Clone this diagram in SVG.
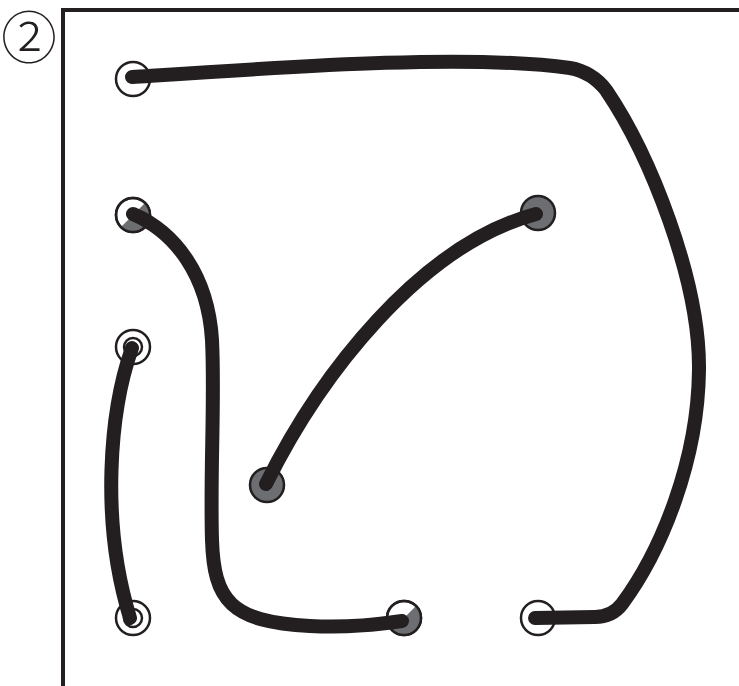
<svg xmlns="http://www.w3.org/2000/svg" width="739" height="686" viewBox="0 0 739 686">
<style>
.frame{fill:none;stroke:#231f20;stroke-width:4}
.wire{fill:none;stroke:#231f20;stroke-width:14;stroke-linecap:round;stroke-linejoin:round}
.ring{fill:#fff;stroke:#231f20;stroke-width:2.5}
.gray{fill:#6d6e71;stroke:#231f20;stroke-width:2.5}
.half{fill:#6d6e71;stroke:none}
.inner{fill:none;stroke:#231f20;stroke-width:2.5}
.lbl{font-family:"Noto Sans CJK JP","DejaVu Sans",sans-serif;font-size:56px;font-weight:300;fill:#231f20}
</style>
<rect width="739" height="686" fill="#fff"/>
<path class="frame" d="M63,686 V10 H739"/>
<text class="lbl" x="29" y="58" text-anchor="middle">②</text>
<g id="n1"><circle class="ring" cx="133" cy="79" r="17"/></g>
<g id="n2"><circle class="ring" cx="133" cy="215" r="17"/><path class="half" d="M145.02,202.98 A17,17 0 0 1 120.98,227.02 Z"/><circle class="inner" cx="133" cy="215" r="17"/></g>
<g id="n3"><circle class="ring" cx="133" cy="347" r="17"/><circle class="inner" cx="133" cy="347" r="9"/></g>
<g id="n4"><circle class="ring" cx="133" cy="618" r="17"/><circle class="inner" cx="133" cy="618" r="9"/></g>
<g id="n5"><circle class="ring" cx="404" cy="618" r="17"/><path class="half" d="M416.02,605.98 A17,17 0 0 1 391.98,630.02 Z"/><circle class="inner" cx="404" cy="618" r="17"/></g>
<g id="n6"><circle class="ring" cx="538" cy="618" r="17"/></g>
<g id="n7"><circle class="gray" cx="538" cy="213" r="17"/></g>
<g id="n8"><circle class="gray" cx="267" cy="485" r="17"/></g>
<g id="connectors">
<path class="wire" d="M132,77 C 300,66 470,54 570,68 Q 592,72 606,90 C 650,155 700,280 699,370 C 698,460 662,550 622,604 Q 612,617 595,617 L 535,618"/>
<path class="wire" d="M133,214 C 175,232 208,275 212,340 C 215,400 210,470 212,540 C 214,600 230,622 310,626 C 350,628 380,624 402,621"/>
<path class="wire" d="M132,348 C 110,410 100,520 130,618"/>
<path class="wire" d="M266,484 C 320,375 420,245 536,214"/>
</g>
</svg>
